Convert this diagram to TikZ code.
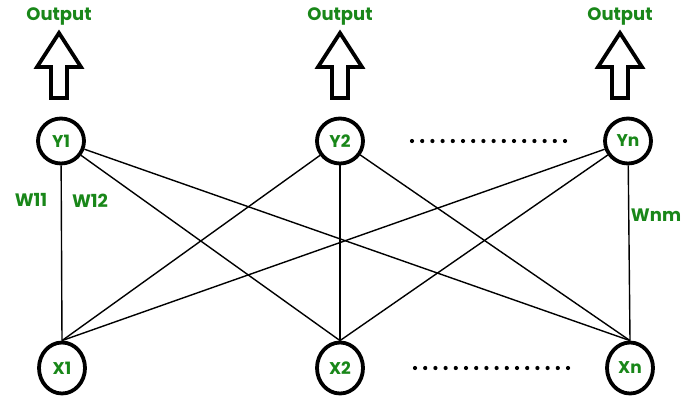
\documentclass[tikz,border=0pt]{standalone}
\usepackage{fontspec}
\setmainfont{Poppins}
\usetikzlibrary{calc,shapes.geometric}
\definecolor{gtext}{RGB}{25,135,25}
\begin{document}
\begin{tikzpicture}[x=1pt,y=-1pt,
  neuron/.style={draw=black,line width=3.8pt,ellipse,minimum width=46pt,minimum height=45pt,inner sep=0pt,font=\fontsize{17}{17}\selectfont\bfseries,text=gtext},
  inneuron/.style={neuron,minimum height=51pt},
  lbl/.style={font=\fontsize{18}{18}\selectfont\bfseries,text=gtext},
  link/.style={line width=1.4pt},
  blockarrow/.style={line width=3.8pt,line join=miter},
  dotrow/.style={line width=4.2pt,dash pattern=on 0pt off 10.2pt,line cap=round}]
\useasboundingbox (0,0) rectangle (682,396);
\node[neuron] (y1) at (61,141) {Y1};
\node[neuron] (y2) at (340,141) {Y2};
\node[neuron] (yn) at (628,141) {Yn};
\node[inneuron] (x1) at (62,368) {X1};
\node[inneuron] (x2) at (340,368) {X2};
\node[inneuron] (xn) at (630,368) {Xn};
\foreach \y in {y1,y2,yn}{
  \foreach \x in {x1,x2,xn}{
    \draw[link] (\y) -- (\x.north);
  }
}
\foreach \n/\cx in {o1/59,o2/340,on/620}{
  \draw[blockarrow] (\cx-8,98) -- (\cx-8,67) -- (\cx-22,67) -- (\cx,33) -- (\cx+22,67) -- (\cx+8,67) -- (\cx+8,98) -- cycle;
  \node[lbl] (\n) at (\cx,16) {Output};
}
\coordinate (d1a) at (412,141);
\coordinate (d1b) at (565,141);
\coordinate (d2a) at (415,368);
\coordinate (d2b) at (574,368);
\draw[dotrow] (d1a) -- (d1b);
\draw[dotrow] (d2a) -- (d2b);
\node[lbl] (w11) at (31,200) {W11};
\node[lbl] (w12) at (90,201) {W12};
\node[lbl] (wnm) at (656,215) {Wnm};
\end{tikzpicture}
\end{document}
